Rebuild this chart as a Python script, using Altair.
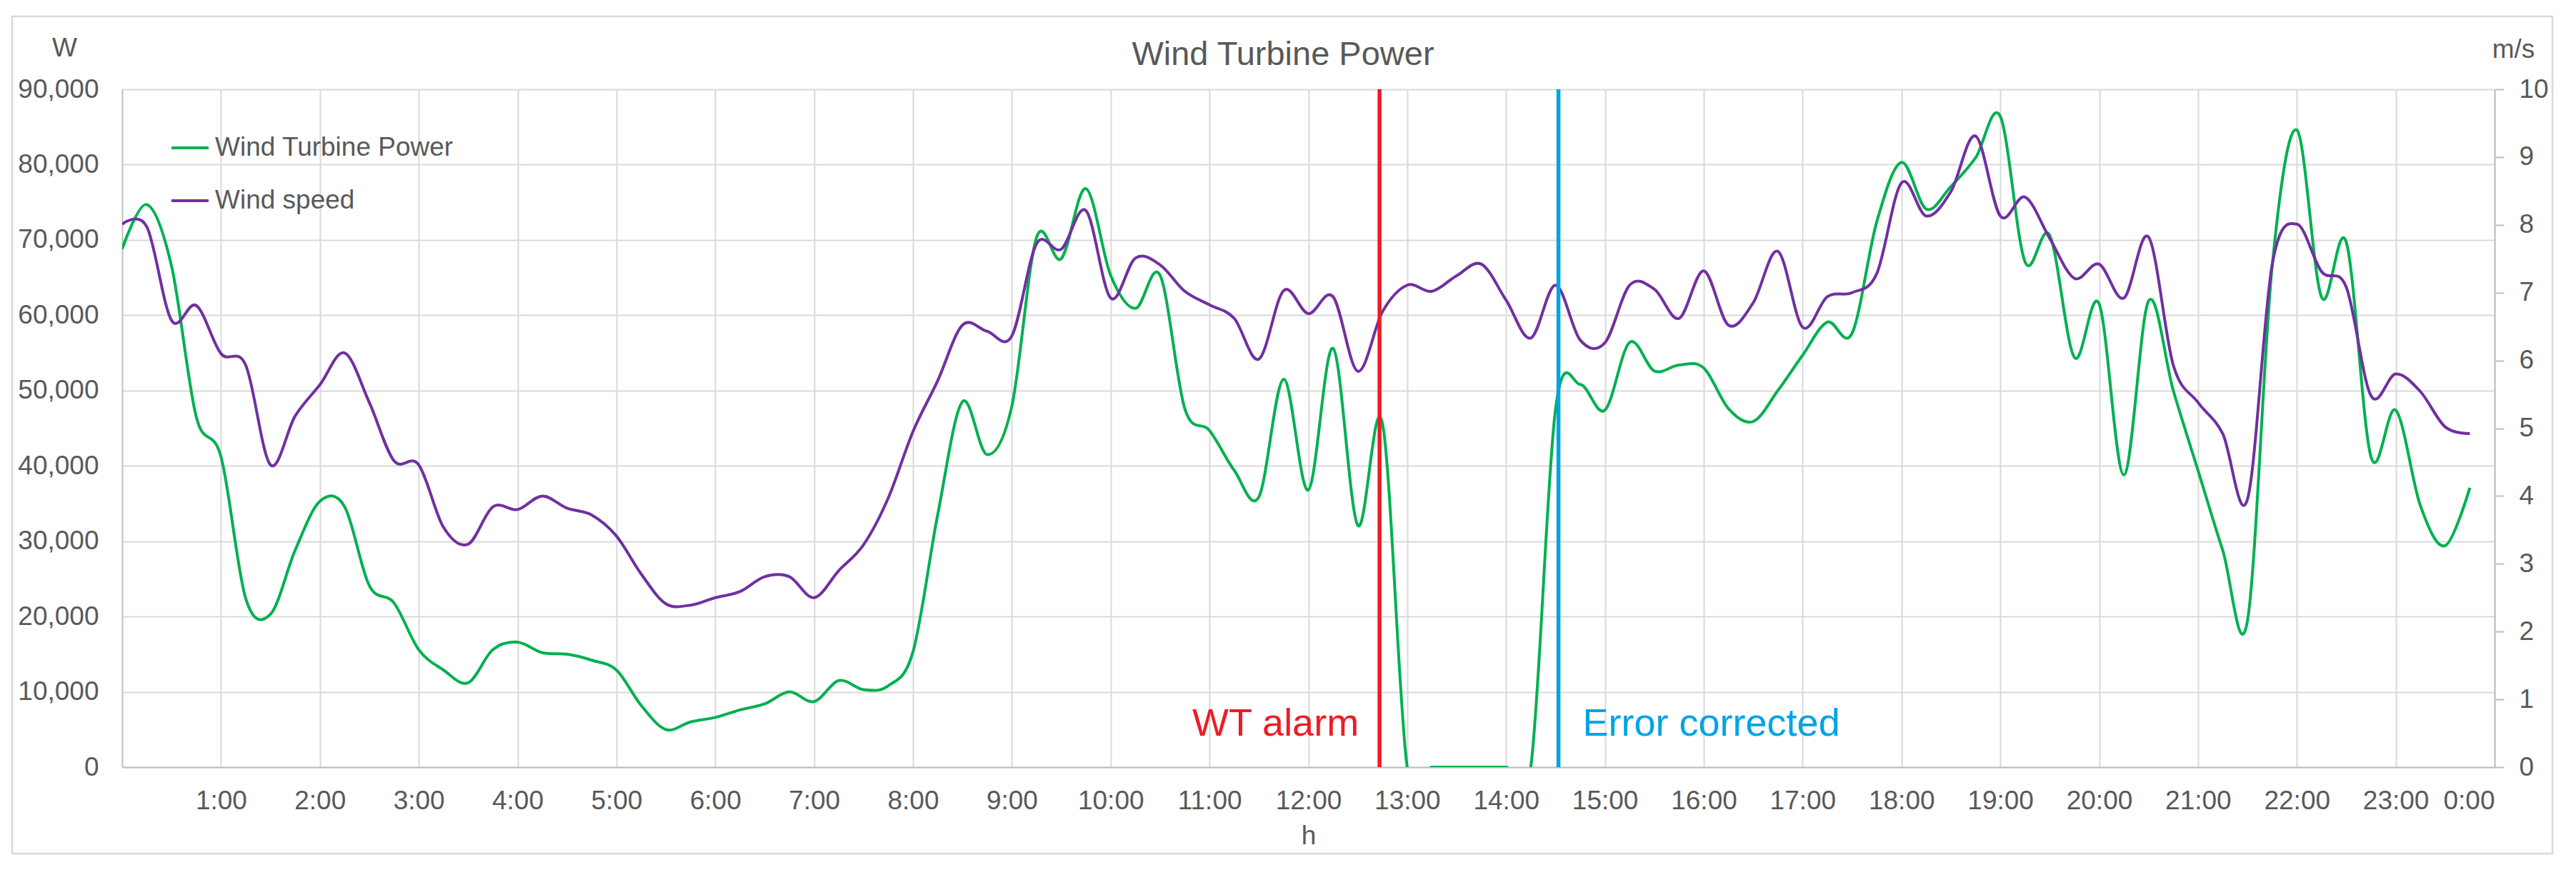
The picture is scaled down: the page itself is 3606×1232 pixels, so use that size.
import altair as alt
import pandas as pd

# ---------------- data ----------------
times = [
    "0:00", "0:15", "0:30", "0:45", "1:00", "1:15", "1:30", "1:45",
    "2:00", "2:15", "2:30", "2:45", "3:00", "3:15", "3:30", "3:45",
    "4:00", "4:15", "4:30", "4:45", "5:00", "5:15", "5:30", "5:45",
    "6:00", "6:15", "6:30", "6:45", "7:00", "7:15", "7:30", "7:45",
    "8:00", "8:15", "8:30", "8:45", "9:00", "9:15", "9:30", "9:45",
    "10:00", "10:15", "10:30", "10:45", "11:00", "11:15", "11:30", "11:45",
    "12:00", "12:15", "12:30", "12:45", "13:00", "13:15", "13:30", "13:45",
    "14:00", "14:15", "14:30", "14:45", "15:00", "15:15", "15:30", "15:45",
    "16:00", "16:15", "16:30", "16:45", "17:00", "17:15", "17:30", "17:45",
    "18:00", "18:15", "18:30", "18:45", "19:00", "19:15", "19:30", "19:45",
    "20:00", "20:15", "20:30", "20:45", "21:00", "21:15", "21:30", "21:45",
    "22:00", "22:15", "22:30", "22:45", "23:00", "23:15", "23:30", "23:45",
]

power_w = [
    68800, 74700, 66500, 46500, 41200, 22400, 20300, 28800,
    35300, 34600, 24100, 21800, 15600, 12900, 11200, 15600,
    16600, 15200, 15000, 14200, 12900, 8200, 5000, 6000,
    6600, 7600, 8400, 10000, 8700, 11500, 10300, 10800,
    15300, 33500, 48500, 41500, 47900, 70300, 67500, 76800,
    65300, 60900, 65300, 47600, 44700, 39400, 35900, 51500,
    36800, 55600, 32100, 45600, 0, 0, 0, 0,
    0, 0, 47500, 50800, 47400, 56400, 52600, 53400,
    53000, 47600, 45900, 50000, 54700, 59100, 57600, 72400,
    80300, 74100, 77100, 80900, 86400, 67100, 70600, 54400,
    61500, 38800, 61900, 50000, 39400, 28800, 19400, 66500,
    84600, 62400, 69700, 41200, 47400, 34700, 29400, 37100,
]

wind_speed = [
    8.01, 7.97, 6.59, 6.81, 6.10, 5.93, 4.46, 5.18,
    5.64, 6.11, 5.38, 4.52, 4.46, 3.54, 3.29, 3.84,
    3.80, 4.00, 3.82, 3.72, 3.41, 2.85, 2.41, 2.39,
    2.50, 2.59, 2.81, 2.81, 2.50, 2.90, 3.28, 3.97,
    4.95, 5.70, 6.52, 6.43, 6.36, 7.72, 7.64, 8.21,
    6.92, 7.51, 7.41, 7.02, 6.82, 6.62, 6.02, 7.03,
    6.69, 6.94, 5.84, 6.72, 7.11, 7.02, 7.25, 7.42,
    6.89, 6.33, 7.11, 6.30, 6.26, 7.11, 7.05, 6.62,
    7.32, 6.52, 6.85, 7.61, 6.49, 6.94, 7.00, 7.28,
    8.62, 8.13, 8.49, 9.31, 8.13, 8.41, 7.80, 7.21,
    7.42, 6.92, 7.82, 5.93, 5.38, 4.92, 3.95, 7.41,
    8.01, 7.31, 7.08, 5.48, 5.80, 5.54, 5.02, 4.92,
]

series_names = ["Wind Turbine Power", "Wind speed"]
series_colors = ["#00B050", "#7030A0"]

event_times = [12.72, 14.53]
event_labels = ["WT alarm", "Error corrected"]
event_colors = ["#EE1C25", "#00A3E6"]

chart_title = "Wind Turbine Power"
x_title = "h"
y_left_title = "W"
y_right_title = "m/s"

power_ticks = [0, 10000, 20000, 30000, 40000, 50000, 60000, 70000, 80000, 90000]
speed_ticks = [0, 1, 2, 3, 4, 5, 6, 7, 8, 9, 10]
hour_ticks = list(range(1, 25))

# ---------------- build ----------------
hours = [int(t.split(":")[0]) + int(t.split(":")[1]) / 60 for t in times]
df = pd.DataFrame({"hour": hours, "time": times, "power": power_w, "speed": wind_speed})

FONT = "Liberation Sans"
TXT = "#595959"
GRID = "#D9D9D9"
AXIS = "#BFBFBF"
W, H = 3321, 949
LW = 4

color_scale = alt.Scale(domain=series_names, range=series_colors)
legend = alt.Legend(
    orient="none", legendX=67, legendY=54, title=None,
    symbolType="stroke", symbolSize=2704, symbolStrokeWidth=LW,
    labelFont=FONT, labelFontSize=37, labelColor=TXT, labelOffset=7,
    labelLimit=1000, rowPadding=28, padding=0,
)

x_enc = alt.X(
    "hour:Q",
    scale=alt.Scale(domain=[0, 24], nice=False, zero=False),
    axis=alt.Axis(
        values=hour_ticks,
        labelExpr="(datum.value % 24) + ':00'",
        title=x_title,
        titleFont=FONT, titleFontSize=37, titleFontWeight="normal", titleColor=TXT,
        titleY=96, titleBaseline="middle",
        labelFont=FONT, labelFontSize=37, labelColor=TXT, labelPadding=29,
        grid=True, gridColor=GRID, gridWidth=2,
        ticks=False, domain=True, domainColor=AXIS, domainWidth=2,
    ),
)

power_line = alt.Chart(df).transform_calculate(
    series="'" + series_names[0] + "'"
).mark_line(
    interpolate="cardinal", tension=0, strokeWidth=LW, clip=True
).encode(
    x=x_enc,
    y=alt.Y(
        "power:Q",
        scale=alt.Scale(domain=[0, 90000], nice=False),
        axis=alt.Axis(
            orient="left", values=power_ticks,
            labelExpr="format(datum.value, ',.0f')",
            title=y_left_title, titleAngle=0, titleX=-81, titleY=-58,
            titleAlign="center", titleBaseline="middle",
            titleFont=FONT, titleFontSize=37, titleFontWeight="normal", titleColor=TXT,
            labelFont=FONT, labelFontSize=37, labelColor=TXT, labelPadding=33,
            grid=True, gridColor=GRID, gridWidth=2,
            ticks=False, domain=True, domainColor=AXIS, domainWidth=2,
        ),
    ),
    color=alt.Color("series:N", scale=color_scale, legend=legend),
)

speed_line = alt.Chart(df).transform_calculate(
    series="'" + series_names[1] + "'"
).mark_line(
    interpolate="cardinal", tension=0, strokeWidth=LW, clip=True
).encode(
    x=alt.X("hour:Q"),
    y=alt.Y(
        "speed:Q",
        scale=alt.Scale(domain=[0, 10], nice=False),
        axis=alt.Axis(
            orient="right", values=speed_ticks,
            labelExpr="format(datum.value, 'd')",
            title=y_right_title, titleAngle=0, titleX=26, titleY=-56,
            titleAlign="center", titleBaseline="middle",
            titleFont=FONT, titleFontSize=37, titleFontWeight="normal", titleColor=TXT,
            labelFont=FONT, labelFontSize=37, labelColor=TXT, labelPadding=21,
            labelAlign="left",
            grid=False, ticks=True, tickSize=13, tickColor=AXIS, tickWidth=2,
            domain=True, domainColor=AXIS, domainWidth=2,
        ),
    ),
    color=alt.Color("series:N", scale=color_scale, legend=legend),
)

events = pd.DataFrame({"hour": event_times, "label": event_labels, "col": event_colors})

rules = alt.Chart(events).mark_rule(strokeWidth=5.5).encode(
    x=alt.X("hour:Q"),
    y=alt.value(0),
    y2=alt.value(H),
    stroke=alt.Stroke("col:N", scale=None, legend=None),
)

alarm_text = alt.Chart(events.iloc[[0]]).mark_text(
    align="right", baseline="alphabetic", dx=-29, font=FONT, fontSize=54
).encode(
    x=alt.X("hour:Q"),
    y=alt.value(905),
    text="label:N",
    fill=alt.Fill("col:N", scale=None, legend=None),
)

fixed_text = alt.Chart(events.iloc[[1]]).mark_text(
    align="left", baseline="alphabetic", dx=34, font=FONT, fontSize=54
).encode(
    x=alt.X("hour:Q"),
    y=alt.value(905),
    text="label:N",
    fill=alt.Fill("col:N", scale=None, legend=None),
)

title_text = alt.Chart(pd.DataFrame({"t": [chart_title]})).mark_text(
    align="center", baseline="middle", font=FONT, fontSize=47, color=TXT
).encode(
    x=alt.value(1625),
    y=alt.value(-48),
    text="t:N",
)

border = alt.Chart(pd.DataFrame({"a": [0]})).mark_rect(
    fillOpacity=0, stroke="#D9D9D9", strokeWidth=2.5
).encode(
    x=alt.value(-154),
    x2=alt.value(3402),
    y=alt.value(-102),
    y2=alt.value(1070),
)

chart = alt.layer(
    border, power_line, speed_line, rules, alarm_text, fixed_text, title_text
).resolve_scale(
    y="independent"
).properties(
    width=W,
    height=H,
    autosize=alt.AutoSizeParams(type="none"),
    padding={"left": 163, "top": 117, "right": 90, "bottom": 140},
    background="white",
).configure_view(stroke=None)

chart.save("out.html", embed_options={"renderer": "svg", "actions": False})
